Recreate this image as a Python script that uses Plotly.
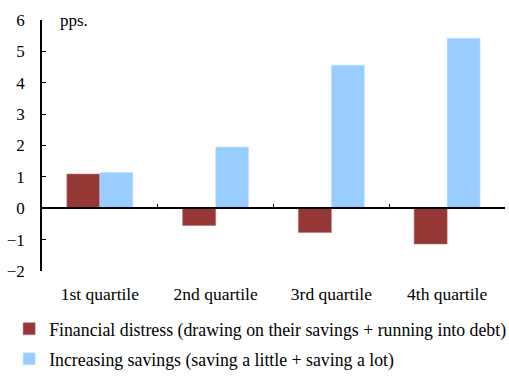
import plotly.graph_objects as go

categories = ["1st quartile", "2nd quartile", "3rd quartile", "4th quartile"]
distress = [1.09, -0.55, -0.77, -1.14]
savings = [1.14, 1.95, 4.56, 5.42]
series_names = [
    "Financial distress (drawing on their savings + running into debt)",
    "Increasing savings (saving a little + saving a lot)",
]
y_ticks = [-2, -1, 0, 1, 2, 3, 4, 5, 6]

FONT = "Liberation Serif, Times New Roman, serif"

fig = go.Figure()
fig.add_trace(go.Bar(x=categories, y=distress, name=series_names[0], legendgroup="a",
                     marker=dict(color="#953735", line=dict(color="#b8706e", width=0.6))))
fig.add_trace(go.Bar(x=categories, y=savings, name=series_names[1], legendgroup="b",
                     marker=dict(color="#99CCFF", line=dict(color="#c4e2ff", width=0.6))))
# invisible trace to make the zero-line axis categorical
fig.add_trace(go.Bar(x=categories, y=[0, 0, 0, 0], xaxis="x2", showlegend=False,
                     hoverinfo="skip", marker=dict(color="rgba(0,0,0,0)")))

fig.update_layout(
    width=509, height=376,
    margin=dict(l=42, r=4, t=20, b=105, autoexpand=False),
    plot_bgcolor="white", paper_bgcolor="white",
    font=dict(family=FONT, size=17, color="black"),
    barmode="group", bargap=0.43, bargroupgap=0,
    showlegend=True,
    legend=dict(x=-0.071, y=-0.158, xanchor="left", yanchor="top",
                font=dict(family=FONT, size=17.8), tracegroupgap=4,
                itemwidth=30),
    xaxis=dict(type="category", categoryarray=categories, range=[-0.5, 3.5],
               showline=False, ticks="", showgrid=False, zeroline=False,
               tickfont=dict(family=FONT, size=17.5), ticklabelstandoff=10),
    xaxis2=dict(type="category", categoryarray=categories, range=[-0.5, 3.5],
                overlaying="x", anchor="free", position=0.25,
                showline=True, linecolor="black", linewidth=1.5,
                ticks="inside", ticklen=4, tickwidth=1.3, tickcolor="black",
                tickson="boundaries", showticklabels=False, showgrid=False,
                zeroline=False),
    yaxis=dict(range=[-2, 6], tickvals=y_ticks, ticks="inside", ticklen=4,
               tickwidth=1.3, tickcolor="black",
               showline=True, linecolor="black", linewidth=1.5,
               showgrid=False, zeroline=False,
               tickfont=dict(family=FONT, size=17), ticklabelstandoff=12),
    annotations=[dict(text="pps.", xref="paper", yref="y", x=0.035, y=6,
                      xanchor="left", yanchor="middle", showarrow=False,
                      font=dict(family=FONT, size=17))],
)

fig.write_html("out.html", config={"displayModeBar": False},
               post_script="document.body.style.margin='0px';")
